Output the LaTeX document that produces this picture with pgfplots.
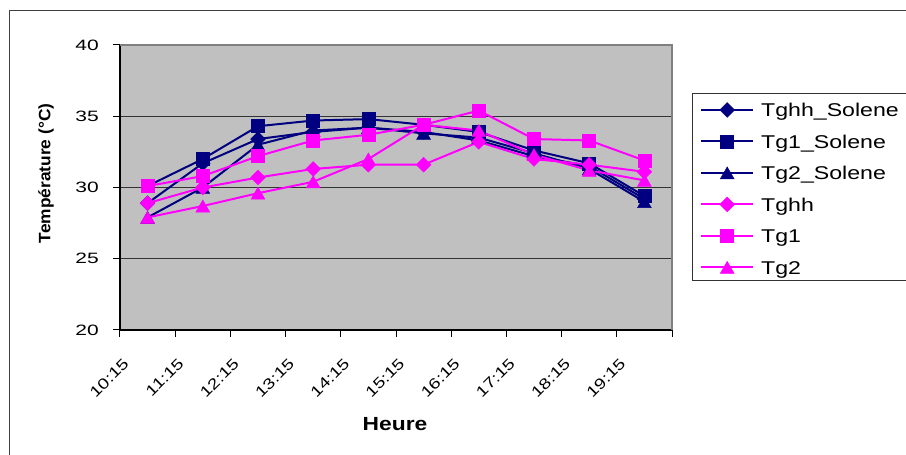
\documentclass[border=0pt]{standalone}
\usepackage{fontspec}
\setmainfont{Liberation Sans}
\newfontfamily\ytickfont[FakeStretch=1.4]{Liberation Sans}
\newfontfamily\xtickfont[FakeStretch=1.27]{Liberation Sans}
\newfontfamily\legfont[FakeStretch=1.25]{Liberation Sans}
\newfontfamily\labfont[FakeStretch=1.2]{Liberation Sans}
\newfontfamily\ylabfont[FakeStretch=1.05]{Liberation Sans}
\usepackage{pgfplots}
\pgfplotsset{compat=1.18}
\definecolor{navyc}{HTML}{000080}
\definecolor{pinkc}{HTML}{FF00FF}
\definecolor{plotbg}{HTML}{C0C0C0}
\begin{document}
\begin{tikzpicture}[x=1pt,y=1pt]
\clip (0pt,0pt) rectangle (906pt,455pt);
\useasboundingbox (0pt,0pt) rectangle (906pt,455pt);
\fill[white] (0pt,0pt) rectangle (906pt,455pt);
\draw[black!75, line width=1pt] (9pt,-20pt) -- (9pt,444pt) -- (930pt,444pt);
\begin{axis}[
  at={(120pt,125pt)}, anchor=south west,
  scale only axis, width=552pt, height=285pt,
  xmin=0.5, xmax=10.5, ymin=20, ymax=40,
  axis background/.style={fill=plotbg},
  xtick={0.5,1.5,...,10.5},
  x tick label as interval,
  xticklabels={10:15,11:15,12:15,13:15,14:15,15:15,16:15,17:15,18:15,19:15},
  ytick={20,25,30,35,40},
  yticklabels={20,25,30,35,40},
  ymajorgrids,
  grid style={black!80, line width=1pt},
  tick align=outside,
  major tick length=7pt,
  tick style={black, line width=1pt},
  tick pos=left,
  axis line style={black, line width=1.2pt},
  xticklabel style={font=\xtickfont\fontsize{15}{18}\selectfont, xshift=-21.6pt, yshift=-24pt, rotate=45, anchor=east, inner sep=0pt},
  yticklabel style={font=\ytickfont\fontsize{15}{18}\selectfont, anchor=east, inner sep=0pt, xshift=-14pt},
  ylabel={Température (°C)},
  ylabel style={at={(axis description cs:-0.13406,0.5498)}, anchor=center, font=\ylabfont\bfseries\fontsize{16.5}{19}\selectfont, inner sep=0pt},
  xlabel={Heure},
  xlabel style={at={(axis description cs:0.4982,-0.3298)}, anchor=center, font=\labfont\bfseries\fontsize{19}{22}\selectfont, inner sep=0pt},
  legend style={at={(axis description cs:1.05072,0.82807)}, anchor=north west, draw=none, fill=none,
    inner sep=0pt, row sep=0pt, column sep=7pt,
    font=\legfont\fontsize{18.5}{22}\selectfont,
    nodes={inner sep=0pt, minimum height=31.5pt, text height=13.5pt, text depth=0pt}},
  legend cell align=left,
  legend image code/.code={\draw[mark repeat=2,mark phase=2,#1] plot coordinates {(0pt,0pt) (26pt,0pt) (52pt,0pt)};},
  after end axis/.code={\draw[black!50, line width=1.5pt] (rel axis cs:0,1) -- (rel axis cs:1,1) -- (rel axis cs:1,0);},
]
% Tghh_Solene
\addplot[navyc, line width=2pt, mark=square*, mark size=5.2pt, mark options={rotate=45, solid, fill=navyc, line width=0.5pt}]
  coordinates {(1,28.9) (2,31.7) (3,33.4) (4,33.9) (5,34.2) (6,33.9) (7,33.3) (8,32.2) (9,31.5) (10,29.2)};
\addlegendentry{Tghh\_Solene}
% Tg1_Solene
\addplot[navyc, line width=2pt, mark=square*, mark size=6.5pt, mark options={solid, fill=navyc, line width=0.5pt}]
  coordinates {(1,30.1) (2,32.0) (3,34.3) (4,34.7) (5,34.8) (6,34.4) (7,33.9) (8,32.6) (9,31.7) (10,29.4)};
\addlegendentry{Tg1\_Solene}
% Tg2_Solene
\addplot[navyc, line width=2pt, mark=triangle*, mark size=8pt, mark options={solid, fill=navyc, line width=0.5pt, yshift=-2pt}]
  coordinates {(1,27.9) (2,30.0) (3,33.0) (4,34.0) (5,34.2) (6,33.8) (7,33.5) (8,32.4) (9,31.3) (10,29.0)};
\addlegendentry{Tg2\_Solene}
% Tghh
\addplot[pinkc, line width=2pt, mark=square*, mark size=5.2pt, mark options={rotate=45, solid, fill=pinkc, line width=0.5pt}]
  coordinates {(1,28.9) (2,30.0) (3,30.7) (4,31.3) (5,31.6) (6,31.6) (7,33.2) (8,32.0) (9,31.6) (10,31.1)};
\addlegendentry{Tghh}
% Tg1
\addplot[pinkc, line width=2pt, mark=square*, mark size=6.5pt, mark options={solid, fill=pinkc, line width=0.5pt}]
  coordinates {(1,30.1) (2,30.8) (3,32.2) (4,33.3) (5,33.7) (6,34.4) (7,35.4) (8,33.4) (9,33.3) (10,31.9)};
\addlegendentry{Tg1}
% Tg2
\addplot[pinkc, line width=2pt, mark=triangle*, mark size=8pt, mark options={solid, fill=pinkc, line width=0.5pt, yshift=-2pt}]
  coordinates {(1,27.9) (2,28.7) (3,29.6) (4,30.4) (5,32.0) (6,34.4) (7,34.0) (8,32.3) (9,31.2) (10,30.5)};
\addlegendentry{Tg2}
\end{axis}
\draw[black!80, line width=1pt] (940pt,174pt) -- (692pt,174pt) -- (692pt,361pt) -- (940pt,361pt);
\end{tikzpicture}
\end{document}
